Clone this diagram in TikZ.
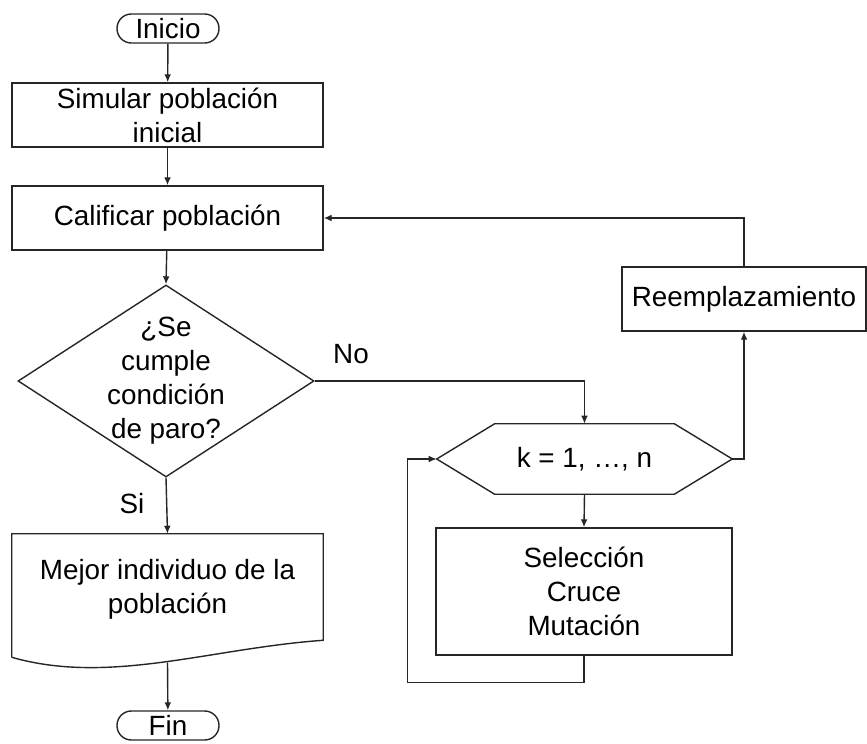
\documentclass[tikz,border=0pt]{standalone}
\usepackage{fontspec}
\setmainfont{Liberation Sans}
\usepackage{tikz}
\usetikzlibrary{arrows.meta, positioning, shapes.geometric}

\begin{document}
\begin{tikzpicture}[
    font=\fontsize{19.8}{24.2}\selectfont,
    line/.style={line width=1pt, draw=black!85},
    term/.style={rectangle, rounded corners=0.36cm, line, minimum width=2.55cm,
                 minimum height=0.725cm, inner sep=0pt, align=center},
    proc/.style={rectangle, line, minimum width=7.775cm, minimum height=1.6cm,
                 inner sep=0pt, align=center},
    decis/.style={diamond, line, minimum width=7.4cm, minimum height=4.8cm,
                  inner sep=0pt},
    hold/.style={rectangle, draw=none, inner sep=0pt, align=center},
    arr/.style={-{Latex[length=0.2cm, width=0.17cm]}, line}
  ]
    \useasboundingbox (0,0) rectangle (21.675,18.575);

    %% ── Left column: main flow
    \node[term] (ini)   at (4.2, 17.8625) {Inicio};
    \node[proc] (sim)   at (4.1875, 15.7) {Simular población\\inicial};
    \node[proc] (calif) at (4.1875, 13.125) {Calificar población};
    \node[decis] (cond) at (4.15, 9.05) {};
    \node[hold] (condtxt) at (cond.center) {¿Se\\cumple\\condición\\de paro?};
    \node[hold, minimum width=7.775cm, minimum height=2.75cm] (best)
          at (4.1875, 3.85) {Mejor individuo de la\\población};
    \node[term] (fin)   at (4.2, 0.4375) {Fin};

    %% Document shape (wavy bottom)
    \draw[line] ([yshift=-0.325cm]best.south west) -- (best.north west) -- (best.north east)
          -- ([yshift=0.1cm]best.south east)
          .. controls +(-2.825,-0.2) and +(2.45,-0.7) .. ([yshift=-0.325cm]best.south west);
    \coordinate (bestbot) at ([yshift=-0.45cm]best.south);

    %% ── Right column: loop over k
    \node[hold, minimum width=7.375cm, minimum height=1.75cm] (loop)
          at (14.6125, 7.1) {k = 1, …, n};
    \draw[line] (loop.west) -- ([xshift=1.45cm]loop.north west)
          -- ([xshift=-1.45cm]loop.north east) -- (loop.east)
          -- ([xshift=-1.45cm]loop.south east) -- ([xshift=1.45cm]loop.south west)
          -- cycle;
    \node[proc, minimum width=7.4cm, minimum height=3.175cm] (ops)
          at (14.6, 3.7875) {Selección\\Cruce\\Mutación};
    \node[proc, minimum width=6.1cm] (repl) at (18.6, 11.1) {Reemplazamiento};

    %% Labels
    \node[hold] (nolab) at (8.775, 9.725) {No};
    \node[hold] (silab) at (3.3, 5.975) {Si};

    %% Arrows: main flow
    \draw[arr] (ini)   -- (sim);
    \draw[arr] (sim)   -- (calif);
    \draw[arr] (calif) -- (cond.north);
    \draw[arr] (cond.south) -- (best.north);
    \draw[arr] (bestbot) -- (fin);

    %% Arrows: loop
    \draw[arr] (cond.east) -| (loop.north);
    \draw[arr] (loop.south) -- (ops.north);
    \draw[arr] (ops.south) -- ++(0,-0.675) -| ([xshift=-0.725cm]loop.west) -- (loop.west);
    \draw[arr] (loop.east) -| (repl.south);
    \draw[arr] (repl.north) |- (calif.east);

  \end{tikzpicture}
\end{document}
